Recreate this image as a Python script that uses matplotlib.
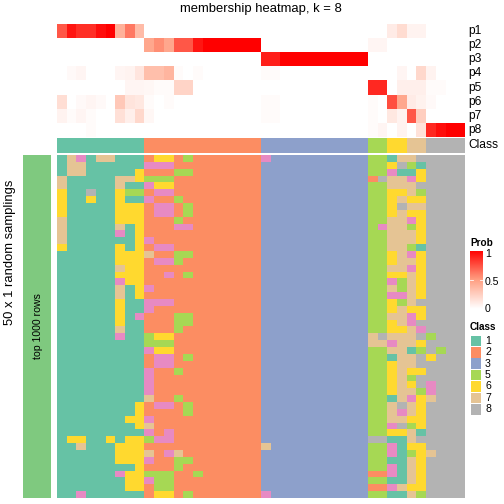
import numpy as np
import matplotlib
matplotlib.use("Agg")
import matplotlib.pyplot as plt
from matplotlib.colors import ListedColormap, LinearSegmentedColormap
from matplotlib.patches import Rectangle

plt.rcParams['font.family'] = ['Liberation Sans', 'DejaVu Sans']

SIZE = 504

row_names = ['p1', 'p2', 'p3', 'p4', 'p5', 'p6', 'p7', 'p8']

# membership probabilities, one list per row, 42 columns
p1 = [.72, .93, .85, .85, .95, 1, .4, .62, .35] + [0] * 12 + [0] * 11 + [0, 0, .1, .18, .06, .06, 0, 0, 0, 0]
p2 = [0] * 9 + [.45, .55, .45, .72, .72, .93, 1, 1, 1, 1, 1, 1] + [0] * 11 + [.05, .05, 0, 0, 0, 0, 0, 0, 0, 0]
p3 = [0] * 9 + [0] * 12 + [.9, .9, 1, 1, 1, 1, 1, 1, 1, 1, 1] + [0] * 10
p4 = [0, .03, .05, 0, 0, 0, .05, .06, .13] + [.33, .33, .38, .02, 0, .02, 0, 0, 0, 0, 0, 0] + [.02, .02] + [0] * 9 + [0, 0, 0, .05, 0, .2, .06, 0, 0, 0]
p5 = [0, 0, 0, 0, 0, 0, 0, .05, .05] + [.04, .02, .02, .22, .22, 0, 0, 0, 0, 0, 0, 0] + [0] * 11 + [.87, .87, 0, .08, .08, .08, .02, .02, 0, 0]
p6 = [.17, 0, .03, .05, .03, 0, .28, .14, .12] + [.02, 0, .02, 0, 0, 0, 0, 0, 0, 0, 0, 0] + [.02, .02] + [0] * 9 + [.02, 0, .75, .45, .1, .07, .03, 0, 0, 0]
p7 = [.06, .02, .05, .02, 0, 0, .16, .08, .2] + [.04] + [0] * 11 + [.02, .02] + [0] * 9 + [.02, 0, .12, .06, .72, .25, 0, 0, 0, 0]
p8 = [0, 0, 0, .02, 0, 0, 0, 0, 0] + [0] * 12 + [0] * 11 + [.02, .05, 0, .06, 0, .15, .87, .95, 1, 1]

# top annotation, class of each column
class_bar = "111111111" + "222222222222" + "33333333333" + "55" + "66" + "77" + "8888"

# class calls per sampling, split by the column blocks
teal_part = [
    "174177111", "177111111", "177111116", "711111776", "711111711",
    "611811655", "611611611", "611111666", "611111666", "711111666",
    "711111716", "711111416", "711111116", "611111616", "111111666",
    "111111666", "111111766", "111111666", "111111466", "111111716",
    "111111716", "111111611", "111111611", "111111614", "111111611",
    "111111711", "111111411", "111111111", "111111111", "111111111",
    "111111111", "111111111", "111111111", "111111111", "111111111",
    "111111111", "111111116", "111111116", "111111166", "111111116",
    "111111111", "166116166", "117111666", "111111666", "111111666",
    "111111116", "111111466", "111111166", "111111166", "114111111",
]
orange_part = [
    "266252222222", "444222222222", "222552222222", "555222222222", "466222222222",
    "244222222222", "422522222222", "244252222222", "244252222222", "222522222222",
    "222442222222", "222222222222", "422222222222", "244222222222", "722552222222",
    "244522222222", "222222222222", "224252222222", "222222222222", "422222222222",
    "222222222222", "444222222222", "422222222222", "222552222222", "222552222222",
    "222522222222", "566222222222", "555222222222", "466222222222", "244252222222",
    "244222222222", "422522222222", "422222222222", "422222222222", "422222222222",
    "722522222222", "244252222222", "222252222222", "422222222222", "722222222222",
    "424222222222", "544222222222", "222222222222", "724722222222", "422552222222",
    "222522222222", "555225222222", "455222222222", "255222222222", "266252222222",
]
blue_first = "4" + "3" * 41 + "7" + "3" * 6 + "4"
right_part = [
    "5517788888", "5568518888", "5541168888", "2877468888", "5577788888",
    "5566758888", "5567668888", "5568778888", "5567668888", "5577468888",
    "5477568888", "5577768888", "5577768888", "5577518888", "5567468888",
    "5567768888", "5577468888", "5566768888", "5545768888", "5575768888",
    "5544768888", "5565788888", "5567668888", "5577468888", "5567488888",
    "5566748888", "7877785888", "7747768888", "5577158588", "5517786888",
    "5567788888", "5567668888", "5567588888", "5567684888", "5567754888",
    "5517467888", "5578768888", "5574768888", "5577668888", "5548568888",
    "5566718888", "8811788888", "5541668888", "5541567888", "5511768888",
    "5541768888", "2241768888", "5511768888", "2247668888", "5511758888",
]

class_colors = ['#66C2A5', '#FC8D62', '#8DA0CB', '#E78AC3', '#A6D854', '#FFD92F', '#E5C494', '#B3B3B3']
legend_classes = ['1', '2', '3', '5', '6', '7', '8']
prob_ticks = ['1', '0.5', '0']

class_cmap = ListedColormap(class_colors)
prob_cmap = LinearSegmentedColormap.from_list('prob', [(0, '#FFFFFF'), (0.5, '#FF9E81'), (1, '#FF0000')])


def px_axes(fig, x0, y0, x1, y1):
    ax = fig.add_axes([x0 / SIZE, 1 - y1 / SIZE, (x1 - x0) / SIZE, (y1 - y0) / SIZE])
    ax.set_axis_off()
    return ax


def to_codes(rows):
    # class labels are 1-8, colour index 0-7
    return np.array([[int(c) - 1 for c in r] for r in rows])


fig = plt.figure(figsize=(SIZE / 72, SIZE / 72), dpi=72)

# top heatmap
ax = px_axes(fig, 57, 24, 465, 137)
ax.imshow(np.array([p1, p2, p3, p4, p5, p6, p7, p8]), cmap=prob_cmap, vmin=0, vmax=1,
          aspect='auto', interpolation='nearest')

# class annotation
ax = px_axes(fig, 57, 138, 465, 153)
ax.imshow(to_codes([class_bar]), cmap=class_cmap, vmin=0, vmax=7, aspect='auto', interpolation='nearest')

# main class heatmap
rows = [t + o + blue_first[i] + "3" * 10 + r
        for i, (t, o, r) in enumerate(zip(teal_part, orange_part, right_part))]
ax = px_axes(fig, 57, 155, 465, 498)
ax.imshow(to_codes(rows), cmap=class_cmap, vmin=0, vmax=7, aspect='auto', interpolation='nearest')

# left group bar
ax = px_axes(fig, 23, 155, 51, 498)
ax.imshow([[0]], cmap=ListedColormap(['#7FC97F']), aspect='auto')

# prob colorbar
ax = px_axes(fig, 470, 251, 483, 309)
ax.imshow(np.linspace(1, 0, 100).reshape(-1, 1), cmap=prob_cmap, vmin=0, vmax=1,
          aspect='auto', interpolation='bilinear')
ax.set_xlim(-0.5, 0.5)
ax.plot([-0.5, -0.27], [49.5, 49.5], color='white', lw=0.8)
ax.plot([0.27, 0.5], [49.5, 49.5], color='white', lw=0.8)

# overlay in pixel coords for the text and class legend
ov = fig.add_axes([0, 0, 1, 1])
ov.set_xlim(0, SIZE)
ov.set_ylim(SIZE, 0)
ov.set_axis_off()
ov.patch.set_alpha(0)

ov.text(261, 9, "membership heatmap, k = 8", ha='center', va='center', fontsize=13)
ov.text(10, 252, "50 x 1 random samplings", rotation=90, ha='center', va='center', fontsize=13)
ov.text(38, 326, "top 1000 rows", rotation=90, ha='center', va='center', fontsize=10.5)

for i, name in enumerate(row_names):
    ov.text(468, 24 + 14.125 * (i + 0.5), name, ha='left', va='center', fontsize=12)
ov.text(468, 145.5, "Class", ha='left', va='center', fontsize=12)

ov.text(470, 243, "Prob", ha='left', va='center', fontsize=10, fontweight='bold')
for y, label in zip([254, 282, 309], prob_ticks):
    ov.text(485, y, label, ha='left', va='center', fontsize=10.5)

ov.text(470, 327, "Class", ha='left', va='center', fontsize=10, fontweight='bold')
for i, label in enumerate(legend_classes):
    color = class_colors[int(label) - 1]
    y = 341 + 11.37 * i
    ov.add_patch(Rectangle((470.5, y - 5.3), 10.8, 10.6, facecolor=color, edgecolor='none'))
    ov.text(485, y, label, ha='left', va='center', fontsize=10.5)

fig.savefig("out.png", dpi=72)
